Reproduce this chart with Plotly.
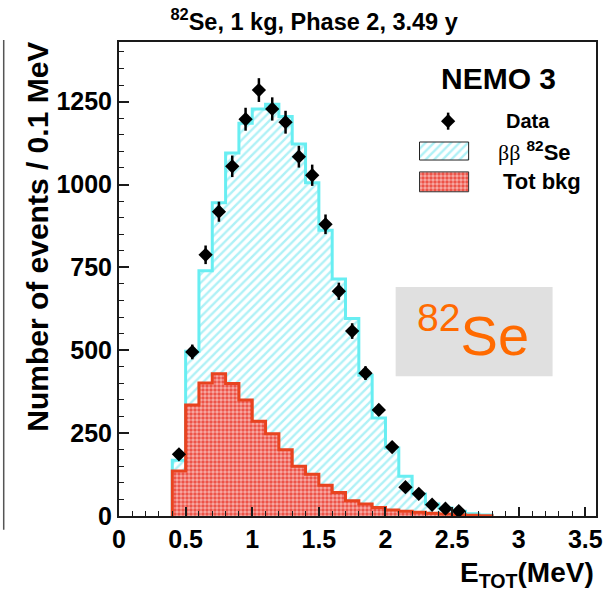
import numpy as np
import plotly.graph_objects as go

# ---------------- data ----------------
bin_low = [0.4, 0.5, 0.6, 0.7, 0.8, 0.9, 1.0, 1.1, 1.2, 1.3, 1.4, 1.5,
           1.6, 1.7, 1.8, 1.9, 2.0, 2.1, 2.2, 2.3, 2.4, 2.5, 2.6, 2.7]
bin_width = 0.1
# total MC (bb 82Se + background), stacked outline
total_mc = [168, 497, 740, 945, 1095, 1185, 1228, 1242, 1205, 1122, 1005, 862,
            715, 596, 425, 296, 205, 120, 66, 36, 24, 14, 7, 3]
# total background
tot_bkg = [136, 335, 401, 429, 400, 350, 286, 248, 200, 150, 126, 93,
           71, 46, 36, 26, 18, 14, 11, 8, 6, 4, 2, 1]
data_x = [0.45, 0.55, 0.65, 0.75, 0.85, 0.95, 1.05, 1.15, 1.25, 1.35, 1.45,
          1.55, 1.65, 1.75, 1.85, 1.95, 2.05, 2.15, 2.25, 2.35, 2.45, 2.55]
data_y = [186, 495, 788, 918, 1055, 1197, 1285, 1228, 1188, 1084, 1028,
          880, 678, 558, 431, 320, 208, 87, 67, 34, 22, 15]
data_err = [float(np.sqrt(v)) for v in data_y]

x_ticks = [0, 0.5, 1, 1.5, 2, 2.5, 3, 3.5]
x_tick_labels = ["0", "0.5", "1", "1.5", "2", "2.5", "3", "3.5"]
y_ticks = [0, 250, 500, 750, 1000, 1250]
y_tick_labels = ["0", "250", "500", "750", "1000", "1250"]

# ---------------- styles ----------------
CYAN_LINE = "#68eef2"
CYAN_HATCH = "#5fe4ee"
RED_LINE = "#e8431f"
RED_FILL = "#ec4a3e"
FONT = "Liberation Sans"


def step_xy(lo, vals, w):
    xs = [lo[0]] + list(lo) + [lo[-1] + w]
    ys = [0] + list(vals) + [0]
    return xs, ys


fig = go.Figure()

sx, sy = step_xy(bin_low, total_mc, bin_width)
fig.add_trace(go.Scatter(
    x=sx, y=sy, mode="lines", line=dict(color=CYAN_LINE, width=3, shape="hv"),
    fill="tozeroy", fillcolor="white",
    fillpattern=dict(shape="/", fgcolor=CYAN_HATCH, bgcolor="white", size=6, solidity=0.4),
    showlegend=False, hoverinfo="skip"))

bx, by = step_xy(bin_low, tot_bkg, bin_width)
fig.add_trace(go.Scatter(
    x=bx, y=by, mode="lines", line=dict(color=RED_LINE, width=3, shape="hv"),
    fill="tozeroy", fillcolor=RED_FILL,
    fillpattern=dict(shape=".", fgcolor="white", bgcolor=RED_FILL, size=4, solidity=0.6),
    showlegend=False, hoverinfo="skip"))

fig.add_trace(go.Scatter(
    x=data_x, y=data_y, mode="markers",
    marker=dict(symbol="diamond", size=11, color="black"),
    error_y=dict(type="data", array=data_err, width=0, thickness=2.5, color="black"),
    showlegend=False))

# ---------------- custom legend (overlay axis in paper units) ----------------
leg_sw_x = [0.630, 0.733]
leg_cyan_y = [0.751, 0.789]
leg_red_y = [0.684, 0.726]
leg_data_pt = (0.690, 0.833)


def rect(xr, yr):
    return [xr[0], xr[1], xr[1], xr[0], xr[0]], [yr[0], yr[0], yr[1], yr[1], yr[0]]

rx, ry = rect(leg_sw_x, leg_cyan_y)
fig.add_trace(go.Scatter(
    x=rx, y=ry, xaxis="x2", yaxis="y2", mode="lines", fill="toself",
    fillcolor="white", line=dict(color="#222", width=1),
    fillpattern=dict(shape="/", fgcolor=CYAN_HATCH, bgcolor="white", size=6, solidity=0.4),
    showlegend=False, hoverinfo="skip"))
rx, ry = rect(leg_sw_x, leg_red_y)
fig.add_trace(go.Scatter(
    x=rx, y=ry, xaxis="x2", yaxis="y2", mode="lines", fill="toself",
    fillcolor=RED_FILL, line=dict(color="#333", width=1),
    fillpattern=dict(shape=".", fgcolor="white", bgcolor=RED_FILL, size=4, solidity=0.6),
    showlegend=False, hoverinfo="skip"))
fig.add_trace(go.Scatter(
    x=[leg_data_pt[0]], y=[leg_data_pt[1]], xaxis="x2", yaxis="y2", mode="markers",
    marker=dict(symbol="diamond", size=11, color="black"),
    error_y=dict(type="data", array=[0.018], width=0, thickness=2.5, color="black"),
    showlegend=False, hoverinfo="skip"))

# ---------------- layout ----------------
frame = "#1a1a1a"
fig.update_layout(
    width=607, height=594,
    margin=dict(l=119, r=4, t=42, b=78),
    paper_bgcolor="white", plot_bgcolor="white",
    font=dict(family=FONT, color="black"),
    title=dict(text="<b><sup>82</sup>Se, 1 kg, Phase 2, 3.49 y</b>",
               x=0.409, xref="paper", xanchor="center",
               y=1 - 22 / 594, yref="container", yanchor="middle",
               font=dict(size=23.5, family=FONT)),
    xaxis=dict(range=[0, 3.58], tickvals=x_ticks, ticktext=x_tick_labels,
               ticks="inside", ticklen=9, tickwidth=1.5, tickcolor=frame,
               minor=dict(dtick=0.1, ticks="inside", ticklen=5, tickcolor=frame, tickwidth=1),
               showline=True, linecolor=frame, linewidth=2, mirror=True,
               showgrid=False, zeroline=False, ticklabeloverflow="allow",
               tickfont=dict(size=25, family=FONT, weight="bold")),
    yaxis=dict(range=[0, 1430], tickvals=y_ticks, ticktext=y_tick_labels,
               ticks="inside", ticklen=10, tickwidth=1.5, tickcolor=frame,
               minor=dict(dtick=50, ticks="inside", ticklen=5, tickcolor=frame, tickwidth=1),
               showline=True, linecolor=frame, linewidth=2, mirror=True,
               showgrid=False, zeroline=False, ticklabeloverflow="allow",
               tickfont=dict(size=25, family=FONT, weight="bold")),
    xaxis2=dict(range=[0, 1], overlaying="x", anchor="y2", visible=False, fixedrange=True),
    yaxis2=dict(range=[0, 1], overlaying="y", anchor="x2", visible=False, fixedrange=True),
    showlegend=False,
)

annotations = [
    dict(text="<b>Number of events / 0.1 MeV</b>", textangle=-90,
         x=-0.171, y=0.59, xref="paper", yref="paper", showarrow=False,
         xanchor="center", yanchor="middle", font=dict(size=30, family=FONT)),
    dict(text="<b>E<sub>TOT</sub>(MeV)</b>", x=1.0, y=-0.083, xref="paper", yref="paper",
         showarrow=False, xanchor="right", yanchor="top", font=dict(size=28, family=FONT)),
    dict(text="<b>NEMO 3</b>", x=0.795, y=0.922, xref="paper", yref="paper",
         showarrow=False, xanchor="center", yanchor="middle", font=dict(size=30, family=FONT)),
    dict(text="<b>Data</b>", x=0.808, y=0.833, xref="paper", yref="paper",
         showarrow=False, xanchor="left", yanchor="middle", font=dict(size=20, family=FONT)),
    dict(text="<span style='font-family:Liberation Serif'>ββ</span> <b><sup>82</sup>Se</b>",
         x=0.791, y=0.770, xref="paper", yref="paper",
         showarrow=False, xanchor="left", yanchor="middle", font=dict(size=22, family=FONT)),
    dict(text="<b>Tot bkg</b>", x=0.800, y=0.705, xref="paper", yref="paper",
         showarrow=False, xanchor="left", yanchor="middle", font=dict(size=22, family=FONT)),
    dict(text="<sup>82</sup>Se", x=0.742, y=0.389, xref="paper", yref="paper",
         showarrow=False, xanchor="center", yanchor="middle",
         font=dict(size=56, family=FONT, color="#ff6a00")),
]
fig.update_layout(annotations=annotations)

fig.add_shape(type="rect", xref="paper", yref="paper",
              x0=0.580, x1=0.909, y0=0.295, y1=0.483,
              fillcolor="#e0e0e0", line=dict(width=0), layer="below")
fig.add_shape(type="line", xref="paper", yref="paper",
              x0=-0.2417, x1=-0.2417, y0=-0.029, y1=1.004,
              line=dict(color="#555", width=1.5))

# remove the default 8px page margin so the figure fills the window exactly
fig.write_html("out.html", config={"displayModeBar": False},
               post_script="document.body.style.margin='0';")
